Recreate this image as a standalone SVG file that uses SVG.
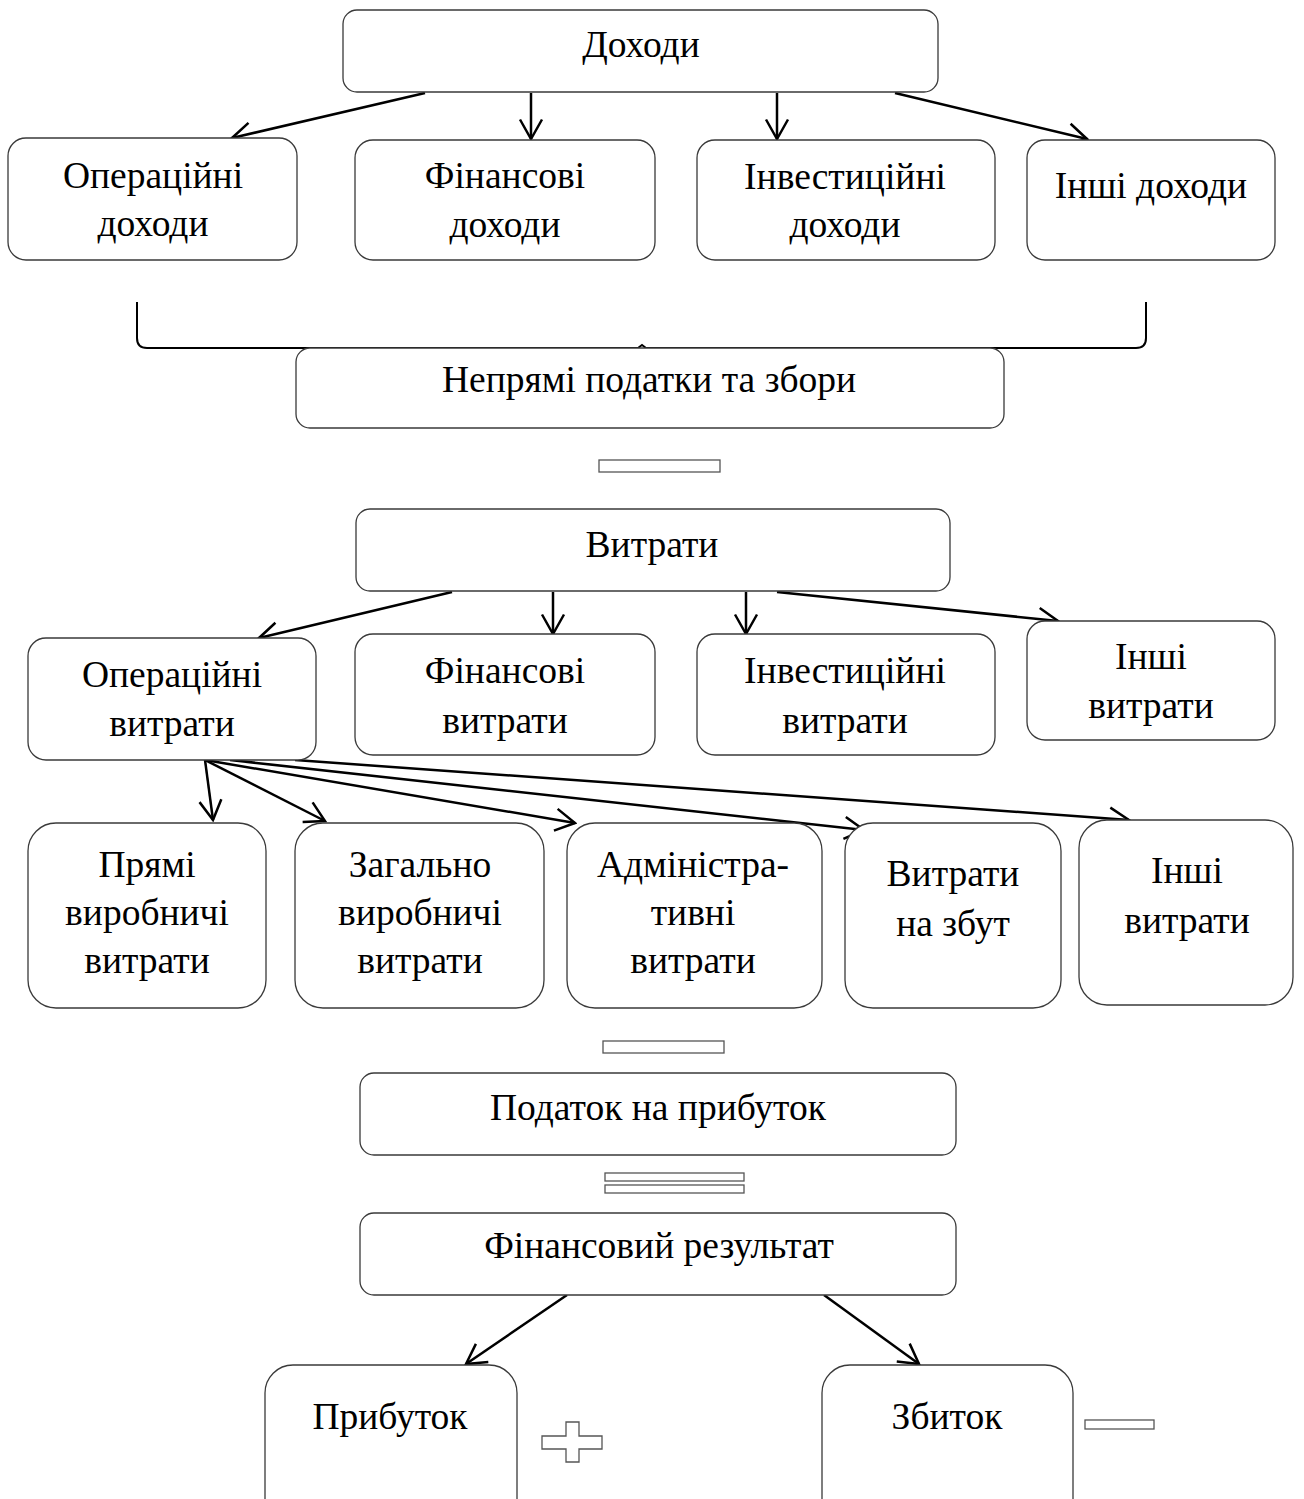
<svg xmlns="http://www.w3.org/2000/svg" width="1304" height="1499" viewBox="0 0 1304 1499">
<style>
.box{fill:#fff;stroke:#3a3a3a;stroke-width:1.3}
.t{font-family:"Liberation Serif","Times New Roman",serif;font-size:37.5px;fill:#000;text-anchor:middle}
.sign{fill:#fff;stroke:#555;stroke-width:1.3}
.arr{stroke:#000;stroke-width:2.5;fill:none;marker-end:url(#ah)}
.brace{stroke:#000;stroke-width:2;fill:none}
</style>
<defs>
<marker id="ah" viewBox="0 0 24 26" refX="21.5" refY="13" markerWidth="24" markerHeight="26" markerUnits="userSpaceOnUse" orient="auto">
<path d="M2,2 L21.5,13 L2,24" fill="none" stroke="#000" stroke-width="2.5"/>
</marker>
</defs>
<rect width="1304" height="1499" fill="#fff"/>

<g id="connectors">
<line class="arr" x1="425" y1="93" x2="232" y2="138"/>
<line class="arr" x1="531" y1="93" x2="531" y2="139"/>
<line class="arr" x1="777" y1="93" x2="777" y2="139"/>
<line class="arr" x1="895" y1="93" x2="1087" y2="139"/>
<line class="arr" x1="452" y1="592" x2="259" y2="638"/>
<line class="arr" x1="553" y1="592" x2="553" y2="634"/>
<line class="arr" x1="746" y1="592" x2="746" y2="634"/>
<line class="arr" x1="777" y1="592" x2="1058" y2="621"/>
<line class="arr" x1="205" y1="760" x2="213" y2="820"/>
<line class="arr" x1="205" y1="760" x2="325" y2="821"/>
<line class="arr" x1="205" y1="760" x2="575" y2="823"/>
<line class="arr" x1="230" y1="760" x2="864" y2="830"/>
<line class="arr" x1="295" y1="760" x2="1129" y2="820"/>
<line class="arr" x1="567" y1="1295" x2="466" y2="1364"/>
<line class="arr" x1="824" y1="1295" x2="919" y2="1364"/>
<path class="brace" d="M137,302 L137,338 Q137,348 147,348 L638,348 L642,345 L646,348 L1136,348 Q1146,348 1146,338 L1146,302"/>
</g>

<g id="n-dohody"><rect class="box" x="343" y="10" width="595" height="82" rx="14"/><text class="t" x="641" y="57">Доходи</text></g>

<g id="n-op-doh"><rect class="box" x="8" y="138" width="289" height="122" rx="18"/><text class="t" x="153" y="188">Операційні</text><text class="t" x="153" y="236">доходи</text></g>
<g id="n-fin-doh"><rect class="box" x="355" y="140" width="300" height="120" rx="18"/><text class="t" x="505" y="188">Фінансові</text><text class="t" x="505" y="237">доходи</text></g>
<g id="n-inv-doh"><rect class="box" x="697" y="140" width="298" height="120" rx="18"/><text class="t" x="845" y="189">Інвестиційні</text><text class="t" x="845" y="237">доходи</text></g>
<g id="n-inshi-doh"><rect class="box" x="1027" y="140" width="248" height="120" rx="18"/><text class="t" x="1151" y="198">Інші доходи</text></g>

<g id="n-nepryami"><rect class="box" x="296" y="348" width="708" height="80" rx="14"/><text class="t" x="649" y="392">Непрямі податки та збори</text></g>

<g id="s-minus1"><rect class="sign" x="599" y="460" width="121" height="12"/></g>

<g id="n-vytraty"><rect class="box" x="356" y="509" width="594" height="82" rx="14"/><text class="t" x="652" y="557">Витрати</text></g>

<g id="n-op-vyt"><rect class="box" x="28" y="638" width="288" height="122" rx="18"/><text class="t" x="172" y="687">Операційні</text><text class="t" x="172" y="736">витрати</text></g>
<g id="n-fin-vyt"><rect class="box" x="355" y="634" width="300" height="121" rx="18"/><text class="t" x="505" y="683">Фінансові</text><text class="t" x="505" y="733">витрати</text></g>
<g id="n-inv-vyt"><rect class="box" x="697" y="634" width="298" height="121" rx="18"/><text class="t" x="845" y="683">Інвестиційні</text><text class="t" x="845" y="733">витрати</text></g>
<g id="n-inshi-vyt"><rect class="box" x="1027" y="621" width="248" height="119" rx="18"/><text class="t" x="1151" y="669">Інші</text><text class="t" x="1151" y="718">витрати</text></g>

<g id="n-pryami"><rect class="box" x="28" y="823" width="238" height="185" rx="28"/><text class="t" x="147" y="877">Прямі</text><text class="t" x="147" y="925">виробничі</text><text class="t" x="147" y="973">витрати</text></g>
<g id="n-zahalno"><rect class="box" x="295" y="823" width="249" height="185" rx="28"/><text class="t" x="420" y="877">Загально</text><text class="t" x="420" y="925">виробничі</text><text class="t" x="420" y="973">витрати</text></g>
<g id="n-admin"><rect class="box" x="567" y="823" width="255" height="185" rx="28"/><text class="t" x="693" y="877">Адміністра-</text><text class="t" x="693" y="925">тивні</text><text class="t" x="693" y="973">витрати</text></g>
<g id="n-zbut"><rect class="box" x="845" y="823" width="216" height="185" rx="28"/><text class="t" x="953" y="886">Витрати</text><text class="t" x="953" y="936">на збут</text></g>
<g id="n-inshi3"><rect class="box" x="1079" y="820" width="214" height="185" rx="28"/><text class="t" x="1187" y="883">Інші</text><text class="t" x="1187" y="933">витрати</text></g>

<g id="s-minus2"><rect class="sign" x="603" y="1041" width="121" height="12"/></g>

<g id="n-podatok"><rect class="box" x="360" y="1073" width="596" height="82" rx="14"/><text class="t" x="658" y="1120">Податок на прибуток</text></g>

<g id="s-equals"><rect class="sign" x="605" y="1173" width="139" height="8"/><rect class="sign" x="605" y="1185" width="139" height="8"/></g>

<g id="n-finrez"><rect class="box" x="360" y="1213" width="596" height="82" rx="14"/><text class="t" x="659" y="1258">Фінансовий результат</text></g>

<g id="n-prybutok"><rect class="box" x="265" y="1365" width="252" height="170" rx="28"/><text class="t" x="390" y="1429">Прибуток</text></g>
<g id="s-plus"><path class="sign" d="M566,1422 L579,1422 L579,1436 L602,1436 L602,1449 L579,1449 L579,1462 L566,1462 L566,1449 L542,1449 L542,1436 L566,1436 Z"/></g>
<g id="n-zbytok"><rect class="box" x="822" y="1365" width="251" height="170" rx="28"/><text class="t" x="947" y="1429">Збиток</text></g>
<g id="s-minus3"><rect class="sign" x="1085" y="1420" width="69" height="9"/></g>
</svg>
